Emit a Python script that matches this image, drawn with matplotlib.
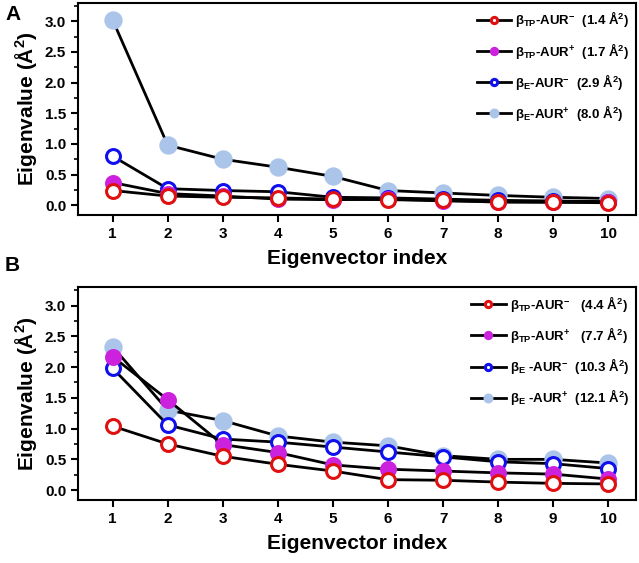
import numpy as np
import matplotlib
matplotlib.use('Agg')
from matplotlib import pyplot as plt

plt.rcParams['font.family'] = ['Liberation Sans', 'DejaVu Sans']
plt.rcParams['font.weight'] = 'bold'
plt.rcParams['mathtext.fontset'] = 'custom'
plt.rcParams['mathtext.rm'] = 'Liberation Sans:bold'
plt.rcParams['mathtext.bf'] = 'Liberation Sans:bold'
plt.rcParams['mathtext.it'] = 'Liberation Sans:bold'
plt.rcParams['mathtext.default'] = 'rm'

x = np.arange(1, 11)

# panel A
a_tp_minus = [0.24, 0.15, 0.13, 0.12, 0.10, 0.09, 0.08, 0.05, 0.05, 0.04]
a_tp_plus = [0.37, 0.19, 0.15, 0.10, 0.09, 0.10, 0.07, 0.06, 0.05, 0.05]
a_e_minus = [0.80, 0.27, 0.24, 0.22, 0.13, 0.12, 0.10, 0.08, 0.07, 0.06]
a_e_plus = [3.02, 0.98, 0.75, 0.62, 0.47, 0.24, 0.20, 0.16, 0.13, 0.11]
a_labels = [r'$\beta_{TP}$-AUR$^{-}$  (1.4 Å$^{2}$)',
            r'$\beta_{TP}$-AUR$^{+}$  (1.7 Å$^{2}$)',
            r'$\beta_{E}$-AUR$^{-}$  (2.9 Å$^{2}$)',
            r'$\beta_{E}$-AUR$^{+}$  (8.0 Å$^{2}$)']

# panel B
b_tp_minus = [1.04, 0.75, 0.55, 0.42, 0.31, 0.17, 0.16, 0.13, 0.11, 0.10]
b_tp_plus = [2.17, 1.47, 0.74, 0.61, 0.41, 0.34, 0.31, 0.28, 0.26, 0.18]
b_e_minus = [1.98, 1.06, 0.83, 0.78, 0.70, 0.62, 0.54, 0.46, 0.43, 0.35]
b_e_plus = [2.33, 1.30, 1.13, 0.88, 0.78, 0.72, 0.56, 0.50, 0.50, 0.44]
b_labels = [r'$\beta_{TP}$-AUR$^{-}$   (4.4 Å$^{2}$)',
            r'$\beta_{TP}$-AUR$^{+}$   (7.7 Å$^{2}$)',
            r'$\beta_{E}$ -AUR$^{-}$  (10.3 Å$^{2}$)',
            r'$\beta_{E}$ -AUR$^{+}$  (12.1 Å$^{2}$)']

styles = [dict(mfc='white', mec='#e01010', ms=10),
          dict(mfc='#cc22dd', mec='#cc22dd', ms=10),
          dict(mfc='white', mec='#1010ee', ms=10),
          dict(mfc='#aac4ea', mec='#aac4ea', ms=11)]

fig = plt.figure(figsize=(6.39, 5.63), dpi=100)
axA = fig.add_axes([0.122, 0.618, 0.873, 0.377])
axB = fig.add_axes([0.122, 0.112, 0.873, 0.378])

for ax, series, labels in [(axA, [a_tp_minus, a_tp_plus, a_e_minus, a_e_plus], a_labels),
                           (axB, [b_tp_minus, b_tp_plus, b_e_minus, b_e_plus], b_labels)]:
    handles = []
    for i in [3, 2, 1, 0]:
        h, = ax.plot(x, series[i], '-o', color='black', lw=2, mew=2.2,
                     label=labels[i], **styles[i])
        handles.append(h)
    handles = handles[::-1]
    ax.set_xlim(0.37, 10.5)
    ax.set_ylim(-0.16, 3.3)
    ax.set_xticks(x)
    ax.set_yticks([0, 0.5, 1.0, 1.5, 2.0, 2.5, 3.0])
    ax.set_yticks(np.arange(0, 3.3, 0.25), minor=True)
    ax.yaxis.set_major_formatter(matplotlib.ticker.FormatStrFormatter('%.1f'))
    ax.tick_params(which='major', direction='out', length=5, width=1.5, labelsize=11)
    ax.tick_params(which='minor', direction='out', length=3, width=1.2)
    ax.tick_params(axis='x', which='minor', bottom=False)
    for s in ax.spines.values():
        s.set_linewidth(1.5)
    ax.set_xlabel('Eigenvector index', fontsize=15, fontweight='bold', labelpad=6)
    ax.set_ylabel('Eigenvalue (Å$^{2}$)', fontsize=15, fontweight='bold', labelpad=4)
    ax.legend(handles=handles, loc='upper right', frameon=False, fontsize=9.5,
              markerscale=0.45, handlelength=2.6, labelspacing=0.85,
              borderaxespad=0.1, handletextpad=0.3)

fig.text(0.008, 0.975, 'A', fontsize=15, fontweight='bold', va='center')
fig.text(0.008, 0.528, 'B', fontsize=15, fontweight='bold', va='center')

fig.savefig('out.png', dpi=100)
